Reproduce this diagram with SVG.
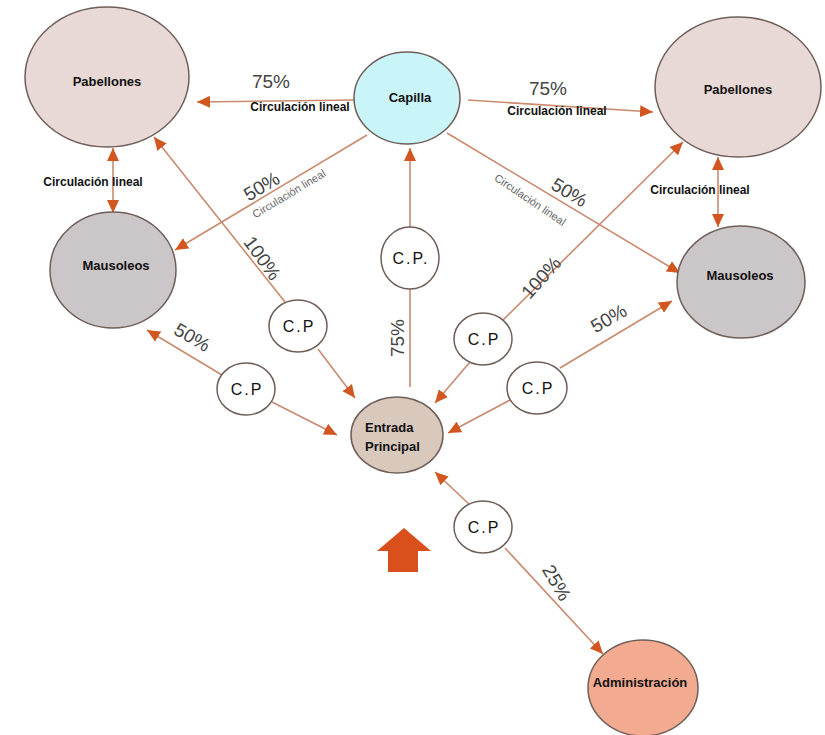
<svg xmlns="http://www.w3.org/2000/svg" width="825" height="735" viewBox="0 0 825 735">
<style>
.n{stroke:#6e5e58;stroke-width:1.5}
.lbl{font-family:"Liberation Sans",Arial,sans-serif;font-weight:bold;font-size:13px;fill:#111;text-anchor:middle}
.cp{font-family:"Liberation Sans",Arial,sans-serif;font-size:16px;letter-spacing:2px;fill:#111;text-anchor:middle}
.pct{font-family:"Liberation Sans",Arial,sans-serif;font-size:19px;fill:#444;text-anchor:middle}
.cl{font-family:"Liberation Sans",Arial,sans-serif;font-weight:bold;font-size:12px;fill:#111;text-anchor:middle}
.cld{font-family:"Liberation Sans",Arial,sans-serif;font-size:11px;fill:#666;text-anchor:middle}
.c path{fill:none;stroke:#c98a6e;stroke-width:1.6}
.a{marker-end:url(#ah)}
.d{marker-start:url(#ah);marker-end:url(#ah)}
</style>
<defs>
<marker id="ah" markerUnits="userSpaceOnUse" markerWidth="14" markerHeight="12" refX="13" refY="6" orient="auto-start-reverse">
<path d="M0,0 L13,6 L0,12 z" fill="#d2561f"/>
</marker>
</defs>
<rect width="825" height="735" fill="#fff"/>

<g id="connectors" class="c">
<path class="a" d="M355,100 L197,102"/>
<path class="a" d="M468,100 L653,112"/>
<path class="d" d="M113,148 L113,213"/>
<path class="d" d="M718,157 L718,227"/>
<path class="a" d="M367,135 L175,250"/>
<path class="a" d="M447,133 L680,273"/>
<path class="a" d="M285,302 L154,137"/>
<path class="a" d="M318,349 L355,398"/>
<path class="a" d="M410,227 L410,148"/>
<path d="M410,289 L410,387"/>
<path class="a" d="M470,362 L435,403"/>
<path class="a" d="M503,320 L683,142"/>
<path class="a" d="M510,400 L448,433"/>
<path class="a" d="M560,368 L672,301"/>
<path class="a" d="M222,375 L147,330"/>
<path class="a" d="M272,402 L337,435"/>
<path class="a" d="M470,505 L435,472"/>
<path class="a" d="M505,548 L603,654"/>
</g>

<g id="labels">
<text class="pct" x="271" y="88">75%</text>
<text class="cl" x="300" y="111">Circulación lineal</text>
<text class="pct" x="548" y="95">75%</text>
<text class="cl" x="557" y="115">Circulación lineal</text>
<text class="cl" x="93" y="186">Circulación lineal</text>
<text class="cl" x="700" y="194">Circulación lineal</text>
<text class="pct" transform="translate(265,192) rotate(-31)">50%</text>
<text class="cld" transform="translate(291,197) rotate(-31)">Circulación lineal</text>
<text class="pct" transform="translate(566,198) rotate(31)">50%</text>
<text class="cld" transform="translate(528,203) rotate(34)">Circulación lineal</text>
<text class="pct" transform="translate(257,262) rotate(54)">100%</text>
<text class="pct" transform="translate(546,282) rotate(-48)">100%</text>
<text class="pct" transform="translate(404,338) rotate(-90)">75%</text>
<text class="pct" transform="translate(189,343) rotate(30)">50%</text>
<text class="pct" transform="translate(612,324) rotate(-30)">50%</text>
<text class="pct" transform="translate(551,586) rotate(60)">25%</text>
</g>

<g id="pabellones-izq"><ellipse class="n" cx="107" cy="77" rx="82" ry="70" fill="#e8d9d6"/><text class="lbl" x="107" y="86">Pabellones</text></g>
<g id="capilla"><ellipse class="n" cx="407" cy="98" rx="53" ry="46" fill="#c9f4f8"/><text class="lbl" x="410" y="102">Capilla</text></g>
<g id="pabellones-der"><ellipse class="n" cx="738" cy="87" rx="83" ry="70" fill="#e8d9d6"/><text class="lbl" x="738" y="94">Pabellones</text></g>
<g id="mausoleos-izq"><ellipse class="n" cx="113" cy="270" rx="63" ry="58" fill="#cbc6c8"/><text class="lbl" x="116" y="270">Mausoleos</text></g>
<g id="mausoleos-der"><ellipse class="n" cx="741" cy="282" rx="64" ry="56" fill="#cbc6c8"/><text class="lbl" x="740" y="280">Mausoleos</text></g>
<g id="entrada"><ellipse class="n" cx="397" cy="435" rx="46" ry="38" fill="#d9c8bc"/><text class="lbl" x="365" y="432" style="text-anchor:start">Entrada</text><text class="lbl" x="365" y="451" style="text-anchor:start">Principal</text></g>
<g id="administracion"><ellipse class="n" cx="643" cy="688" rx="55" ry="48" fill="#f2aa90"/><text class="lbl" x="640" y="687">Administración</text></g>

<g id="cp-centro"><ellipse class="n" cx="410" cy="258" rx="29" ry="31" fill="#fff"/><text class="cp" x="411" y="264">C.P.</text></g>
<g id="cp-izq-sup"><ellipse class="n" cx="298" cy="326" rx="29" ry="26" fill="#fff"/><text class="cp" x="299" y="332">C.P</text></g>
<g id="cp-izq-inf"><ellipse class="n" cx="246" cy="389" rx="29" ry="26" fill="#fff"/><text class="cp" x="247" y="395">C.P</text></g>
<g id="cp-der-sup"><ellipse class="n" cx="483" cy="339" rx="29" ry="26" fill="#fff"/><text class="cp" x="484" y="345">C.P</text></g>
<g id="cp-der-inf"><ellipse class="n" cx="537" cy="388" rx="30" ry="26" fill="#fff"/><text class="cp" x="538" y="394">C.P</text></g>
<g id="cp-inf"><ellipse class="n" cx="483" cy="527" rx="29" ry="26" fill="#fff"/><text class="cp" x="484" y="533">C.P</text></g>

<g id="flecha-acceso"><path d="M404,528 L431,551 L418,551 L418,572 L388,572 L388,551 L377,551 z" fill="#d9501c"/></g>
</svg>
